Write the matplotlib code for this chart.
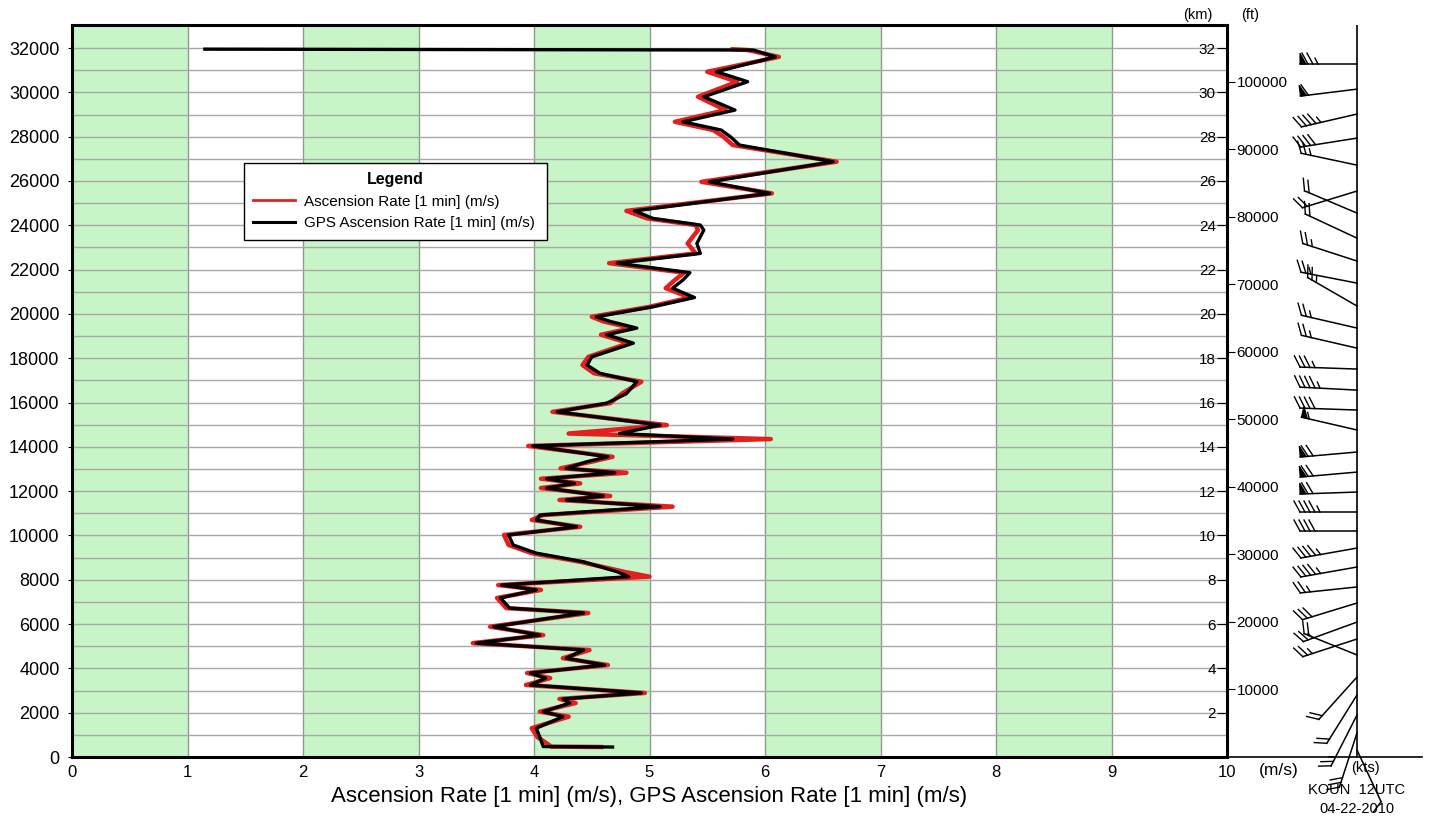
import numpy as np
import matplotlib
matplotlib.use('Agg')
import matplotlib.pyplot as plt
from matplotlib.lines import Line2D
from matplotlib.patches import Polygon

plt.rcParams['font.family'] = ['Liberation Sans', 'DejaVu Sans']

# altitude (m) of the profile points
alt = [450, 470, 900, 1300, 1820, 2045, 2435, 2620, 2890, 3250, 3560, 3790,
       4150, 4460, 4830, 5140, 5500, 5880, 6500, 6720, 7180, 7540, 7760, 8140,
       8360, 8810, 9200, 9570, 10020, 10390, 10700, 10920, 11300, 11600, 11780,
       12140, 12350, 12560, 12830, 13030, 13330, 13550, 14040, 14350, 14600,
       14980, 15580, 15970, 16400, 16940, 17320, 17690, 18060, 18680, 19060,
       19360, 19660, 19870, 20320, 20740, 21160, 21530, 21860, 22290, 22730,
       23180, 23780, 24010, 24310, 24650, 25440, 25960, 26870, 27620, 28000,
       28300, 28670, 29200, 29800, 30480, 30930, 31600, 31910, 31950]

# GPS ascension rate (m/s)
gps_rate = [4.68, 4.08, 4.05, 4.02, 4.25, 4.08, 4.31, 4.25, 4.93, 3.97, 4.10, 3.97,
            4.61, 4.28, 4.43, 3.50, 4.05, 3.65, 4.43, 3.79, 3.71, 4.02, 3.72, 4.82,
            4.72, 4.43, 4.02, 3.82, 3.78, 4.37, 4.02, 4.05, 5.09, 4.28, 4.60,
            4.11, 4.35, 4.11, 4.70, 4.28, 4.46, 4.64, 3.99, 5.72, 4.74,
            5.09, 4.20, 4.63, 4.80, 4.89, 4.57, 4.46, 4.50, 4.86, 4.63,
            4.89, 4.66, 4.54, 5.03, 5.39, 5.20, 5.29, 5.35, 4.72, 5.44,
            5.41, 5.47, 5.44, 5.03, 4.87, 6.04, 5.52, 6.59, 5.78, 5.70,
            5.62, 5.29, 5.74, 5.47, 5.85, 5.58, 6.09, 5.90, 1.15]

# ascension rate from pressure (m/s)
asc_rate = [4.60, 4.15, 4.03, 3.98, 4.30, 4.05, 4.36, 4.22, 4.96, 3.93, 4.14, 3.94,
            4.64, 4.25, 4.48, 3.47, 4.08, 3.62, 4.47, 3.76, 3.68, 4.06, 3.69, 5.00,
            4.78, 4.40, 3.98, 3.78, 3.74, 4.40, 3.98, 4.08, 5.20, 4.22, 4.66,
            4.06, 4.40, 4.06, 4.80, 4.23, 4.50, 4.68, 3.95, 6.05, 4.30,
            5.15, 4.16, 4.66, 4.76, 4.93, 4.52, 4.42, 4.47, 4.82, 4.58,
            4.85, 4.60, 4.50, 5.00, 5.35, 5.14, 5.22, 5.30, 4.65, 5.40,
            5.33, 5.42, 5.40, 4.98, 4.80, 6.06, 5.45, 6.62, 5.72, 5.64,
            5.55, 5.22, 5.66, 5.42, 5.76, 5.50, 6.12, 5.85, 5.70]

# wind barbs: altitude (m), direction (deg), speed (kts)
barb_alt = [31275, 30145, 29020, 27935, 26715, 25545, 24550, 23420, 22385, 21390,
            20355, 19360, 18455, 17510, 16560, 15660, 14760, 13765, 12860, 11960,
            11055, 10200, 9430, 8575, 7675, 6950, 6090, 5325, 4605, 3610,
            2800, 1895, 1085, 315]
barb_dir = [270, 263, 257, 261, 282, 253, 293, 295, 288, 281,
            300, 283, 283, 272, 273, 272, 283, 265, 265, 268,
            270, 270, 260, 260, 264, 253, 250, 252, 292, 222,
            212, 207, 198, 155]
barb_spd = [75, 60, 45, 40, 25, 20, 20, 20, 25, 25,
            25, 25, 25, 35, 45, 40, 55, 70, 70, 70,
            45, 40, 45, 45, 25, 30, 25, 25, 20, 20,
            20, 25, 30, 10]

km_ticks = list(range(2, 33, 2))
ft_ticks = list(range(10000, 100001, 10000))

W, H = 1434, 818
fig = plt.figure(figsize=(W / 100, H / 100), dpi=100)

x0, x1 = 72, 1227
y0, y1 = 757, 25
ax = fig.add_axes([x0 / W, 1 - y0 / H, (x1 - x0) / W, (y0 - y1) / H])
ytop = 33040
ax.set_xlim(0, 10)
ax.set_ylim(0, ytop)

for k in range(0, 10, 2):
    ax.axvspan(k, k + 1, color='#c8f5c8', zorder=0, lw=0)
for k in range(1, 10):
    ax.axvline(k, color='#8c9c8c', lw=1, zorder=1)
for h in range(1000, 33000, 1000):
    ax.axhline(h, color='#a8a8a8', lw=1, zorder=1)

ax.plot(asc_rate, alt, color='#e3201e', lw=3.2, zorder=3, solid_capstyle='butt')
ax.plot(gps_rate, alt, color='black', lw=2.4, zorder=4)

ax.set_xticks(range(0, 11))
ax.set_yticks(range(0, 32001, 2000))
ax.tick_params(axis='x', length=0, pad=6, labelsize=12)
ax.tick_params(axis='y', length=3, pad=6, labelsize=13)
for s in ax.spines.values():
    s.set_linewidth(2.2)
    s.set_zorder(6)
ax.set_xlabel('Ascension Rate [1 min] (m/s), GPS Ascension Rate [1 min] (m/s)',
              fontsize=16, labelpad=4)

handles = [Line2D([], [], color='#e3201e', lw=2),
           Line2D([], [], color='black', lw=2.2)]
leg = ax.legend(handles, ['Ascension Rate [1 min] (m/s)', 'GPS Ascension Rate [1 min] (m/s)'],
                title='Legend', loc='upper left', mode='expand',
                bbox_to_anchor=(244 / W, 1 - 240 / H, 303 / W, 77 / H),
                bbox_transform=fig.transFigure,
                fontsize=11, title_fontproperties={'weight': 'bold', 'size': 11.5},
                fancybox=False, edgecolor='black', framealpha=1, borderaxespad=0,
                handlelength=2.75, handletextpad=0.6, borderpad=0.6, labelspacing=0.5)
leg.get_frame().set_linewidth(1)
leg.set_zorder(10)

# km axis, labels inside the plot
axk = ax.twinx()
axk.set_ylim(0, ytop / 1000)
axk.spines['left'].set_position(('axes', 1.0))
axk.yaxis.set_ticks_position('left')
axk.set_yticks(km_ticks)
axk.tick_params(axis='y', direction='out', length=7, pad=1, labelsize=11)
for s in axk.spines.values():
    s.set_visible(False)

# ft axis
axf = ax.twinx()
axf.set_ylim(0, ytop / 0.3048)
axf.set_yticks(ft_ticks)
axf.tick_params(axis='y', direction='out', length=6, pad=1, labelsize=11)
for s in axf.spines.values():
    s.set_visible(False)

fig.text(1198 / W, 1 - 15 / H, '(km)', ha='center', va='center', fontsize=10.5)
fig.text(1250 / W, 1 - 15 / H, '(ft)', ha='center', va='center', fontsize=10.5)
fig.text(1279 / W, 1 - 771 / H, '(m/s)', ha='center', va='center', fontsize=12.5)

# wind barb column, axes data units are pixels
bx0, bx1 = 1227, 1422
axb = fig.add_axes([bx0 / W, 1 - y0 / H, (bx1 - bx0) / W, (y0 - y1) / H])
axb.set_xlim(0, bx1 - bx0)
axb.set_ylim(0, y0 - y1)
axb.patch.set_visible(False)
for k in ['top', 'left', 'right']:
    axb.spines[k].set_visible(False)
axb.spines['bottom'].set_linewidth(1.2)
axb.set_xticks([])
axb.set_yticks([])
xo = 1357 - bx0
axb.plot([xo, xo], [0, y0 - y1], color='black', lw=1.2)


def draw_barb(axb, x, y, ddeg, spd, staff=57):
    r = np.deg2rad(ddeg)
    s = np.array([np.sin(r), np.cos(r)])
    perp = np.array([s[1], -s[0]])
    p0 = np.array([x, y])
    tip = p0 + staff * s
    axb.plot([p0[0], tip[0]], [p0[1], tip[1]], color='black', lw=1.1, clip_on=False)
    n50 = spd // 50
    n10 = (spd % 50) // 10
    n5 = (spd % 10) // 5
    pos = 0
    for i in range(n50):
        a = tip - pos * s
        b = tip - (pos + 6) * s
        c = a + 11 * perp
        axb.add_patch(Polygon([a, b, c], closed=True, color='black', lw=0.8, clip_on=False))
        pos += 8
    for i in range(n10):
        a = tip - pos * s
        e = a + 11 * perp + 6 * s
        axb.plot([a[0], e[0]], [a[1], e[1]], color='black', lw=1.0, clip_on=False)
        pos += 5
    for i in range(n5):
        a = tip - pos * s
        e = a + 6 * perp + 3 * s
        axb.plot([a[0], e[0]], [a[1], e[1]], color='black', lw=1.0, clip_on=False)


for h, dd, sp in zip(barb_alt, barb_dir, barb_spd):
    draw_barb(axb, xo, h / ytop * (y0 - y1), dd, sp)

fig.text(1365 / W, 1 - 768 / H, '(kts)', ha='center', va='center', fontsize=10.5)
fig.text(1357 / W, 1 - 790 / H, 'KOUN  12UTC', ha='center', va='center', fontsize=10.5)
fig.text(1357 / W, 1 - 809 / H, '04-22-2010', ha='center', va='center', fontsize=10.5)

fig.savefig('out.png', dpi=100)
